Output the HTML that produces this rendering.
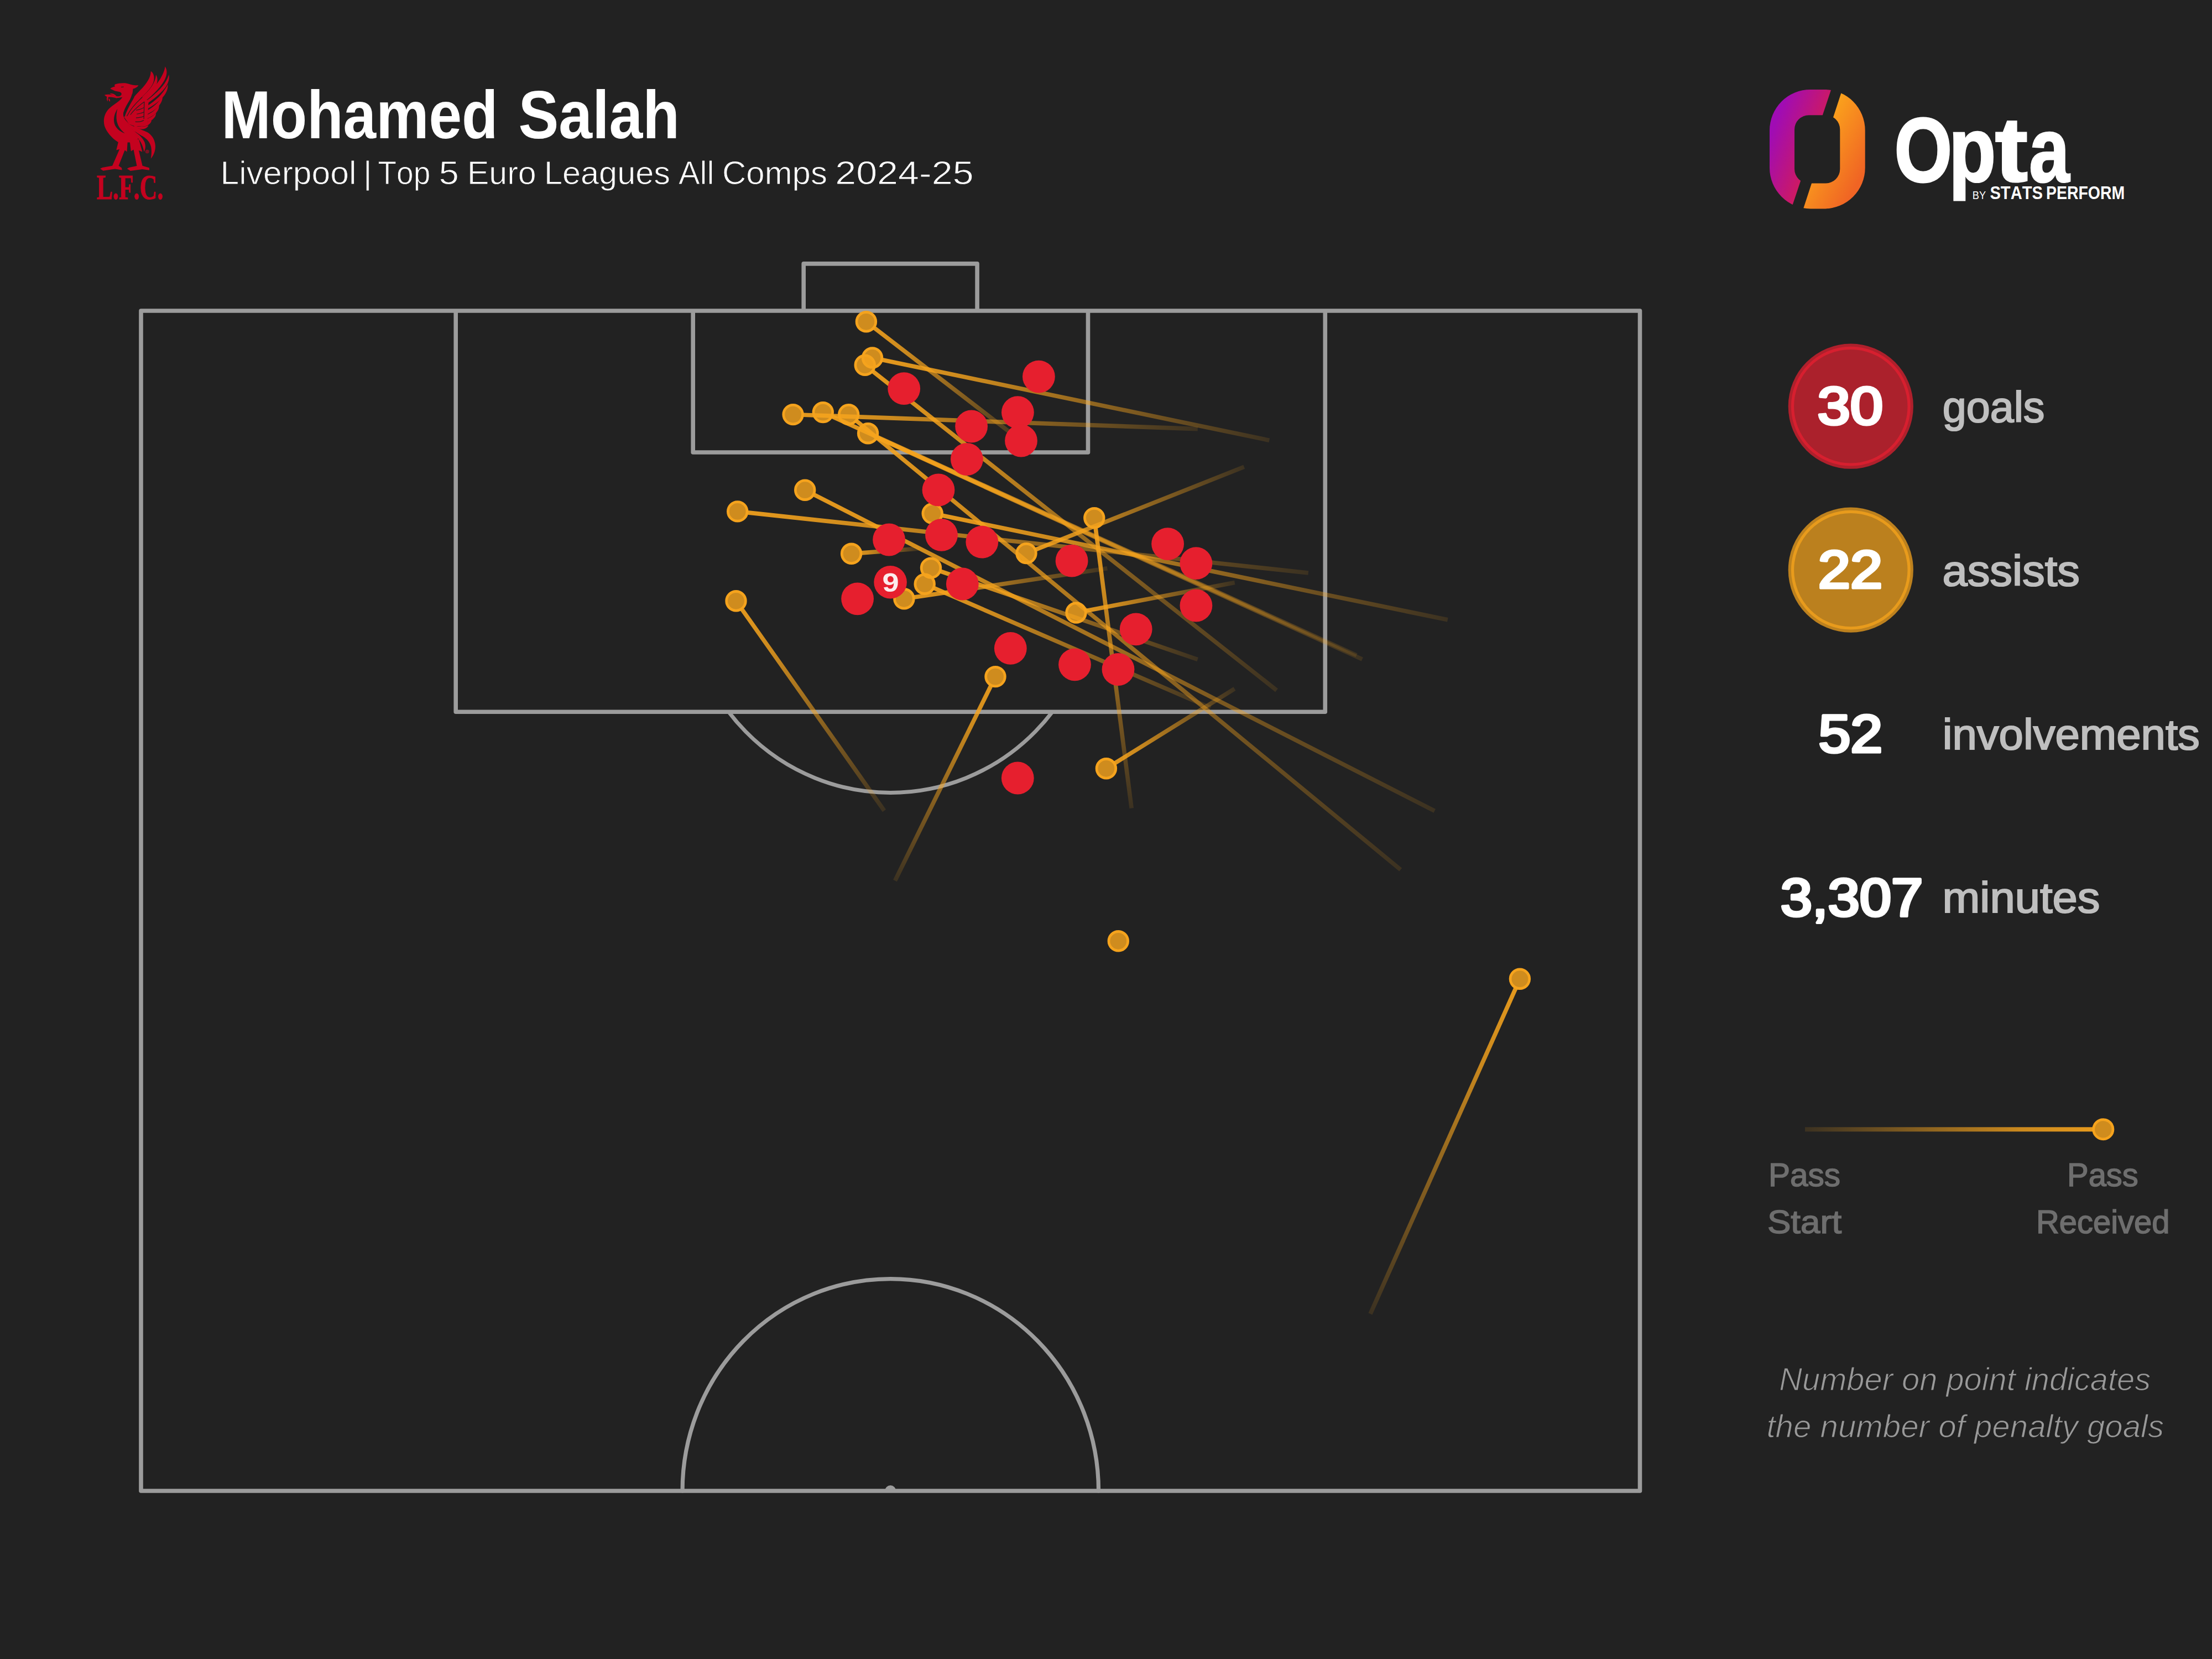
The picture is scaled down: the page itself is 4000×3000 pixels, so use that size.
<!DOCTYPE html>
<html lang="en"><head><meta charset="utf-8"><title>Mohamed Salah | Opta</title>
<style>html,body{margin:0;padding:0;background:#222222;}body{width:4000px;height:3000px;overflow:hidden;}svg{display:block;}text{font-family:"Liberation Sans",sans-serif;font-kerning:none;}</style></head><body>
<svg width="4000" height="3000" viewBox="0 0 4000 3000">
<defs>
<linearGradient id="g0" gradientUnits="userSpaceOnUse" x1="1850.0" y1="800.0" x2="1566.4" y2="581.8"><stop offset="0" stop-color="#f5a31d" stop-opacity="0.12"/><stop offset="0.75" stop-color="#f5a31d" stop-opacity="0.80"/><stop offset="1" stop-color="#f5a31d" stop-opacity="0.93"/></linearGradient>
<linearGradient id="g1" gradientUnits="userSpaceOnUse" x1="2295.3" y1="796.2" x2="1577.5" y2="647.0"><stop offset="0" stop-color="#f5a31d" stop-opacity="0.12"/><stop offset="0.75" stop-color="#f5a31d" stop-opacity="0.80"/><stop offset="1" stop-color="#f5a31d" stop-opacity="0.93"/></linearGradient>
<linearGradient id="g2" gradientUnits="userSpaceOnUse" x1="2308.5" y1="1248.2" x2="1564.2" y2="660.3"><stop offset="0" stop-color="#f5a31d" stop-opacity="0.12"/><stop offset="0.75" stop-color="#f5a31d" stop-opacity="0.80"/><stop offset="1" stop-color="#f5a31d" stop-opacity="0.93"/></linearGradient>
<linearGradient id="g3" gradientUnits="userSpaceOnUse" x1="2165.8" y1="775.6" x2="1434.1" y2="749.6"><stop offset="0" stop-color="#f5a31d" stop-opacity="0.12"/><stop offset="0.75" stop-color="#f5a31d" stop-opacity="0.80"/><stop offset="1" stop-color="#f5a31d" stop-opacity="0.93"/></linearGradient>
<linearGradient id="g4" gradientUnits="userSpaceOnUse" x1="2453.1" y1="1184.9" x2="1488.3" y2="745.6"><stop offset="0" stop-color="#f5a31d" stop-opacity="0.12"/><stop offset="0.75" stop-color="#f5a31d" stop-opacity="0.80"/><stop offset="1" stop-color="#f5a31d" stop-opacity="0.93"/></linearGradient>
<linearGradient id="g5" gradientUnits="userSpaceOnUse" x1="2532.7" y1="1572.6" x2="1534.7" y2="749.6"><stop offset="0" stop-color="#f5a31d" stop-opacity="0.12"/><stop offset="0.75" stop-color="#f5a31d" stop-opacity="0.80"/><stop offset="1" stop-color="#f5a31d" stop-opacity="0.93"/></linearGradient>
<linearGradient id="g6" gradientUnits="userSpaceOnUse" x1="2463.3" y1="1192.1" x2="1569.6" y2="783.7"><stop offset="0" stop-color="#f5a31d" stop-opacity="0.12"/><stop offset="0.75" stop-color="#f5a31d" stop-opacity="0.80"/><stop offset="1" stop-color="#f5a31d" stop-opacity="0.93"/></linearGradient>
<linearGradient id="g7" gradientUnits="userSpaceOnUse" x1="2594.2" y1="1466.3" x2="1455.7" y2="886.2"><stop offset="0" stop-color="#f5a31d" stop-opacity="0.12"/><stop offset="0.75" stop-color="#f5a31d" stop-opacity="0.80"/><stop offset="1" stop-color="#f5a31d" stop-opacity="0.93"/></linearGradient>
<linearGradient id="g8" gradientUnits="userSpaceOnUse" x1="2365.8" y1="1036.0" x2="1333.7" y2="924.9"><stop offset="0" stop-color="#f5a31d" stop-opacity="0.12"/><stop offset="0.75" stop-color="#f5a31d" stop-opacity="0.80"/><stop offset="1" stop-color="#f5a31d" stop-opacity="0.93"/></linearGradient>
<linearGradient id="g9" gradientUnits="userSpaceOnUse" x1="2617.8" y1="1120.8" x2="1686.2" y2="928.6"><stop offset="0" stop-color="#f5a31d" stop-opacity="0.12"/><stop offset="0.75" stop-color="#f5a31d" stop-opacity="0.80"/><stop offset="1" stop-color="#f5a31d" stop-opacity="0.93"/></linearGradient>
<linearGradient id="g10" gradientUnits="userSpaceOnUse" x1="1662.0" y1="992.0" x2="1539.6" y2="1001.3"><stop offset="0" stop-color="#f5a31d" stop-opacity="0.12"/><stop offset="0.75" stop-color="#f5a31d" stop-opacity="0.80"/><stop offset="1" stop-color="#f5a31d" stop-opacity="0.93"/></linearGradient>
<linearGradient id="g11" gradientUnits="userSpaceOnUse" x1="2249.7" y1="844.3" x2="1856.0" y2="1000.6"><stop offset="0" stop-color="#f5a31d" stop-opacity="0.12"/><stop offset="0.75" stop-color="#f5a31d" stop-opacity="0.80"/><stop offset="1" stop-color="#f5a31d" stop-opacity="0.93"/></linearGradient>
<linearGradient id="g12" gradientUnits="userSpaceOnUse" x1="2165.7" y1="1192.5" x2="1683.5" y2="1027.1"><stop offset="0" stop-color="#f5a31d" stop-opacity="0.12"/><stop offset="0.75" stop-color="#f5a31d" stop-opacity="0.80"/><stop offset="1" stop-color="#f5a31d" stop-opacity="0.93"/></linearGradient>
<linearGradient id="g13" gradientUnits="userSpaceOnUse" x1="2189.0" y1="1280.0" x2="1672.2" y2="1056.2"><stop offset="0" stop-color="#f5a31d" stop-opacity="0.12"/><stop offset="0.75" stop-color="#f5a31d" stop-opacity="0.80"/><stop offset="1" stop-color="#f5a31d" stop-opacity="0.93"/></linearGradient>
<linearGradient id="g14" gradientUnits="userSpaceOnUse" x1="2046.2" y1="1461.5" x2="1978.8" y2="936.6"><stop offset="0" stop-color="#f5a31d" stop-opacity="0.12"/><stop offset="0.75" stop-color="#f5a31d" stop-opacity="0.80"/><stop offset="1" stop-color="#f5a31d" stop-opacity="0.93"/></linearGradient>
<linearGradient id="g15" gradientUnits="userSpaceOnUse" x1="2232.7" y1="1053.4" x2="1946.0" y2="1108.0"><stop offset="0" stop-color="#f5a31d" stop-opacity="0.12"/><stop offset="0.75" stop-color="#f5a31d" stop-opacity="0.80"/><stop offset="1" stop-color="#f5a31d" stop-opacity="0.93"/></linearGradient>
<linearGradient id="g16" gradientUnits="userSpaceOnUse" x1="2002.4" y1="1027.7" x2="1634.9" y2="1082.8"><stop offset="0" stop-color="#f5a31d" stop-opacity="0.12"/><stop offset="0.75" stop-color="#f5a31d" stop-opacity="0.80"/><stop offset="1" stop-color="#f5a31d" stop-opacity="0.93"/></linearGradient>
<linearGradient id="g17" gradientUnits="userSpaceOnUse" x1="1599.0" y1="1466.0" x2="1331.0" y2="1086.8"><stop offset="0" stop-color="#f5a31d" stop-opacity="0.12"/><stop offset="0.75" stop-color="#f5a31d" stop-opacity="0.80"/><stop offset="1" stop-color="#f5a31d" stop-opacity="0.93"/></linearGradient>
<linearGradient id="g18" gradientUnits="userSpaceOnUse" x1="1618.5" y1="1592.5" x2="1800.0" y2="1223.6"><stop offset="0" stop-color="#f5a31d" stop-opacity="0.12"/><stop offset="0.75" stop-color="#f5a31d" stop-opacity="0.80"/><stop offset="1" stop-color="#f5a31d" stop-opacity="0.93"/></linearGradient>
<linearGradient id="g19" gradientUnits="userSpaceOnUse" x1="2232.5" y1="1245.6" x2="2000.4" y2="1389.8"><stop offset="0" stop-color="#f5a31d" stop-opacity="0.12"/><stop offset="0.75" stop-color="#f5a31d" stop-opacity="0.80"/><stop offset="1" stop-color="#f5a31d" stop-opacity="0.93"/></linearGradient>
<linearGradient id="g21" gradientUnits="userSpaceOnUse" x1="2478.0" y1="2375.9" x2="2748.4" y2="1770.2"><stop offset="0" stop-color="#f5a31d" stop-opacity="0.12"/><stop offset="0.75" stop-color="#f5a31d" stop-opacity="0.80"/><stop offset="1" stop-color="#f5a31d" stop-opacity="0.93"/></linearGradient>
<linearGradient id="lg" gradientUnits="userSpaceOnUse" x1="3264" y1="0" x2="3784" y2="0"><stop offset="0" stop-color="#f5a31d" stop-opacity="0.12"/><stop offset="0.75" stop-color="#f5a31d" stop-opacity="0.80"/><stop offset="1" stop-color="#f5a31d" stop-opacity="0.93"/></linearGradient>
<linearGradient id="ol" gradientUnits="userSpaceOnUse" x1="3200" y1="250" x2="3312" y2="292"><stop offset="0" stop-color="#a00cb4"/><stop offset="1" stop-color="#e3203c"/></linearGradient>
<linearGradient id="or" gradientUnits="userSpaceOnUse" x1="3272" y1="245" x2="3376" y2="300"><stop offset="0" stop-color="#fcaa1b"/><stop offset="1" stop-color="#f06424"/></linearGradient>
<clipPath id="cl"><polygon points="3150,100 3332,100 3231.7,400 3150,400"/></clipPath>
<clipPath id="cr"><polygon points="3351.7,100 3420,100 3420,400 3253.6,400"/></clipPath>
<clipPath id="dclip"><rect x="1100" y="1287.2" width="1000" height="300"/></clipPath>
</defs>
<rect width="4000" height="3000" fill="#222222"/>
<g fill="none" stroke="#9c9c9c" stroke-width="7.6" stroke-linejoin="round" stroke-linecap="round">
<rect x="255" y="562" width="2710.5" height="2134"/>
<path d="M824.2 562V1287.2H2396.3V562" stroke-linecap="butt"/>
<path d="M1253.2 562V818H1967.5V562" stroke-linecap="butt"/>
<path d="M1453.2 562V476.9H1767.1V562" stroke-linecap="butt"/>
<ellipse cx="1610.3" cy="1056" rx="370.4" ry="377.4" stroke-width="7" clip-path="url(#dclip)"/>
<path d="M1234.05 2696A376.25 383.4 0 0 1 1986.55 2696" stroke-width="7.2"/>
</g>
<path d="M1600.2 2696A10 10 0 0 1 1620.2 2696Z" fill="#9c9c9c"/>
<g fill="none" stroke-width="7.6" stroke-linecap="butt">
<line x1="1850.0" y1="800.0" x2="1581.1" y2="593.1" stroke="url(#g0)"/>
<line x1="2295.3" y1="796.2" x2="1595.6" y2="650.8" stroke="url(#g1)"/>
<line x1="2308.5" y1="1248.2" x2="1578.7" y2="671.8" stroke="url(#g2)"/>
<line x1="2165.8" y1="775.6" x2="1452.6" y2="750.3" stroke="url(#g3)"/>
<line x1="2453.1" y1="1184.9" x2="1505.1" y2="753.3" stroke="url(#g4)"/>
<line x1="2532.7" y1="1572.6" x2="1549.0" y2="761.4" stroke="url(#g5)"/>
<line x1="2463.3" y1="1192.1" x2="1586.4" y2="791.4" stroke="url(#g6)"/>
<line x1="2594.2" y1="1466.3" x2="1472.2" y2="894.6" stroke="url(#g7)"/>
<line x1="2365.8" y1="1036.0" x2="1352.1" y2="926.9" stroke="url(#g8)"/>
<line x1="2617.8" y1="1120.8" x2="1704.3" y2="932.3" stroke="url(#g9)"/>
<line x1="1662.0" y1="992.0" x2="1558.0" y2="999.9" stroke="url(#g10)"/>
<line x1="2249.7" y1="844.3" x2="1873.2" y2="993.8" stroke="url(#g11)"/>
<line x1="2165.7" y1="1192.5" x2="1701.0" y2="1033.1" stroke="url(#g12)"/>
<line x1="2189.0" y1="1280.0" x2="1689.2" y2="1063.6" stroke="url(#g13)"/>
<line x1="2046.2" y1="1461.5" x2="1981.2" y2="954.9" stroke="url(#g14)"/>
<line x1="2232.7" y1="1053.4" x2="1964.2" y2="1104.5" stroke="url(#g15)"/>
<line x1="2002.4" y1="1027.7" x2="1653.2" y2="1080.1" stroke="url(#g16)"/>
<line x1="1599.0" y1="1466.0" x2="1341.7" y2="1101.9" stroke="url(#g17)"/>
<line x1="1618.5" y1="1592.5" x2="1791.8" y2="1240.2" stroke="url(#g18)"/>
<line x1="2232.5" y1="1245.6" x2="2016.1" y2="1380.0" stroke="url(#g19)"/>
<line x1="2478.0" y1="2375.9" x2="2740.9" y2="1787.1" stroke="url(#g21)"/>
</g>
<g fill="#f5a31d" fill-opacity="0.82" stroke="#f5a31d" stroke-width="4.8">
<circle cx="1566.4" cy="581.8" r="17.3"/>
<circle cx="1577.5" cy="647.0" r="17.3"/>
<circle cx="1564.2" cy="660.3" r="17.3"/>
<circle cx="1434.1" cy="749.6" r="17.3"/>
<circle cx="1488.3" cy="745.6" r="17.3"/>
<circle cx="1534.7" cy="749.6" r="17.3"/>
<circle cx="1569.6" cy="783.7" r="17.3"/>
<circle cx="1455.7" cy="886.2" r="17.3"/>
<circle cx="1333.7" cy="924.9" r="17.3"/>
<circle cx="1686.2" cy="928.6" r="17.3"/>
<circle cx="1539.6" cy="1001.3" r="17.3"/>
<circle cx="1856.0" cy="1000.6" r="17.3"/>
<circle cx="1683.5" cy="1027.1" r="17.3"/>
<circle cx="1672.2" cy="1056.2" r="17.3"/>
<circle cx="1978.8" cy="936.6" r="17.3"/>
<circle cx="1946.0" cy="1108.0" r="17.3"/>
<circle cx="1634.9" cy="1082.8" r="17.3"/>
<circle cx="1331.0" cy="1086.8" r="17.3"/>
<circle cx="1800.0" cy="1223.6" r="17.3"/>
<circle cx="2000.4" cy="1389.8" r="17.3"/>
<circle cx="2022.3" cy="1701.8" r="17.3"/>
<circle cx="2748.4" cy="1770.2" r="17.3"/>
</g>
<g fill="#e61f2e">
<circle cx="1634.7" cy="702.7" r="29.4"/>
<circle cx="1878.4" cy="681.1" r="29.4"/>
<circle cx="1840.4" cy="745.7" r="29.4"/>
<circle cx="1756.6" cy="771.0" r="29.4"/>
<circle cx="1846.5" cy="797.0" r="29.4"/>
<circle cx="1748.4" cy="830.5" r="29.4"/>
<circle cx="1697.0" cy="886.0" r="29.4"/>
<circle cx="1607.6" cy="976.0" r="29.4"/>
<circle cx="1702.5" cy="967.4" r="29.4"/>
<circle cx="1775.8" cy="980.1" r="29.4"/>
<circle cx="1938.1" cy="1014.1" r="29.4"/>
<circle cx="1740.3" cy="1056.0" r="29.4"/>
<circle cx="1550.6" cy="1082.8" r="29.4"/>
<circle cx="1827.3" cy="1172.4" r="29.4"/>
<circle cx="2111.6" cy="983.6" r="29.4"/>
<circle cx="2162.9" cy="1018.7" r="29.4"/>
<circle cx="2162.9" cy="1095.0" r="29.4"/>
<circle cx="2054.2" cy="1137.8" r="29.4"/>
<circle cx="1943.5" cy="1201.8" r="29.4"/>
<circle cx="2022.0" cy="1210.5" r="29.4"/>
<circle cx="1840.3" cy="1407.0" r="29.4"/>
<circle cx="1610.1" cy="1052.8" r="29.8"/>
</g>
<text x="1595.5" y="1069.8" font-size="49" textLength="30.2" lengthAdjust="spacingAndGlyphs" font-weight="700" fill="#fcebed">9</text>
<g transform="translate(170 110) scale(0.12658)" fill="#c4021f"><path d="M300 335 C360 318 440 312 490 328 C540 345 590 352 636 350 C622 376 590 392 556 400 C556 440 545 500 520 545 C480 610 440 670 420 740 C412 790 430 830 470 870 C520 920 580 990 625 1075 C640 1110 620 1135 600 1150 L520 1165 L350 1165 C260 1110 180 1020 150 930 C125 840 150 740 230 670 C290 618 370 580 405 520 L336 532 L258 508 L266 496 L330 506 C362 512 388 500 393 478 C396 458 380 444 350 440 L300 430 L232 398 C250 378 280 372 300 368 C290 355 292 345 300 335Z"/><path d="M150 488 C200 470 260 478 335 520 L325 535 C280 520 240 512 205 520 C195 545 200 565 195 580 C180 560 178 535 185 515 C170 505 158 498 150 488Z"/><path d="M225 470 C250 460 290 470 318 500 L300 510 C280 495 250 485 225 470Z"/><path d="M210 535 C230 545 235 565 225 585 C212 570 205 552 210 535Z"/><path d="M430 800 C440 700 520 560 640 440 C740 340 810 250 812 148 C850 170 870 230 850 300 C820 400 700 500 600 600 C540 670 500 740 470 820Z"/><path d="M500 740 C560 640 690 520 790 410 C850 340 880 270 885 200 C915 240 910 310 880 370 C820 480 700 570 600 660 C560 700 530 740 510 770Z"/><path d="M560 650 C700 540 860 400 950 250 C990 180 1010 130 1015 80 C1050 130 1045 200 1010 270 C930 420 780 540 640 650 C600 680 580 690 560 690Z"/><path d="M600 670 C760 570 920 450 1010 320 C1045 265 1062 225 1068 195 C1085 250 1060 320 1020 380 C930 500 780 600 640 690Z"/><path d="M610 720 C760 660 900 560 990 440 C1025 390 1045 360 1052 335 C1062 390 1035 450 1000 500 C920 600 790 680 650 740Z"/><path d="M620 770 C740 730 860 660 940 560 C960 535 972 520 978 500 C985 550 960 600 930 640 C860 720 760 770 650 800Z"/><path d="M615 815 C720 800 830 750 900 670 C915 652 922 645 928 630 C935 680 910 720 880 750 C820 810 730 840 640 850Z"/><path d="M600 860 C690 860 790 830 860 770 C872 760 880 752 886 742 C888 785 865 815 835 840 C780 880 700 895 620 890Z"/><path d="M580 895 C660 905 750 890 822 848 C818 885 790 910 760 925 C710 945 650 940 600 925Z"/><path d="M570 925 C630 945 720 945 778 922 C765 955 730 970 700 975 C660 980 610 965 575 945Z"/><path d="M428 800 C445 700 520 600 600 545 L780 560 L760 900 L600 940 L500 905Z"/><path d="M480 890 C560 940 680 980 760 1020 C830 1060 870 1130 876 1210 C880 1290 850 1350 812 1398 C820 1340 826 1290 815 1230 C800 1160 750 1110 690 1075 C620 1035 550 990 500 930Z"/><path d="M560 1000 C630 1040 700 1100 725 1170 C740 1220 735 1260 715 1300 C705 1250 690 1200 660 1150 C630 1105 590 1060 560 1000Z"/><path d="M350 1150 L480 1150 L470 1300 L440 1275 L352 1500 L395 1528 L400 1560 L300 1545 L130 1570 L88 1540 L120 1525 L262 1500 L365 1262 L318 1275Z"/><path d="M510 1140 L640 1120 L690 1300 L640 1280 L692 1500 L790 1528 L790 1562 L690 1548 L520 1572 L472 1540 L500 1525 L612 1502 L565 1268 L528 1292Z"/><circle cx="760" cy="1295" r="28" fill-opacity="0.55"/><path d="M335 685 C285 760 270 850 300 920 C330 980 390 1020 440 1035 C380 990 340 930 325 860 C315 800 320 740 335 685Z" fill="#222222"/><path d="M545 470 C520 560 450 680 422 792 L438 800 C470 700 530 600 575 520Z" fill="#222222"/><path d="M470 790 C520 690 600 600 690 520" fill="none" stroke="#222222" stroke-width="9"/><path d="M520 770 C570 700 640 640 720 585" fill="none" stroke="#222222" stroke-width="9"/><path d="M718 585 L712 830" fill="none" stroke="#222222" stroke-width="9"/><path d="M600 705 C640 700 680 685 715 668" fill="none" stroke="#222222" stroke-width="9"/><path d="M610 760 C650 755 690 742 715 730" fill="none" stroke="#222222" stroke-width="9"/><path d="M600 815 C640 815 680 805 712 792" fill="none" stroke="#222222" stroke-width="9"/><path d="M590 870 C630 875 680 868 712 850" fill="none" stroke="#222222" stroke-width="9"/><path d="M385 372 L425 368 L422 378 L388 380Z" fill="#222222"/></g><text x="174.9" y="359.6" font-size="64" textLength="120.5" lengthAdjust="spacingAndGlyphs" font-weight="700" fill="#c4021f" stroke="#c4021f" stroke-width="1.2" style="font-family:'Liberation Serif',serif">L.F.C.</text>
<path d="M3274 161.9H3298.7A74 74 0 0 1 3372.7 235.9V303.4A74 74 0 0 1 3298.7 377.4H3274A74 74 0 0 1 3200 303.4V235.9A74 74 0 0 1 3274 161.9ZM3271 208.2H3301.3A26 26 0 0 1 3327.3 234.2V305.5A26 26 0 0 1 3301.3 331.5H3271A26 26 0 0 1 3245 305.5V234.2A26 26 0 0 1 3271 208.2Z" fill="url(#ol)" fill-rule="evenodd" clip-path="url(#cl)"/>
<path d="M3274 161.9H3298.7A74 74 0 0 1 3372.7 235.9V303.4A74 74 0 0 1 3298.7 377.4H3274A74 74 0 0 1 3200 303.4V235.9A74 74 0 0 1 3274 161.9ZM3271 208.2H3301.3A26 26 0 0 1 3327.3 234.2V305.5A26 26 0 0 1 3301.3 331.5H3271A26 26 0 0 1 3245 305.5V234.2A26 26 0 0 1 3271 208.2Z" fill="url(#or)" fill-rule="evenodd" clip-path="url(#cr)"/>
<text y="327.5" font-size="166" font-weight="700" fill="#fff" stroke="#fff" stroke-width="3.2"><tspan x="3425.4" textLength="104.7" lengthAdjust="spacingAndGlyphs">O</tspan><tspan x="3524.1" textLength="85.3" lengthAdjust="spacingAndGlyphs">p</tspan><tspan x="3607.7" textLength="59.1" lengthAdjust="spacingAndGlyphs">t</tspan><tspan x="3669.2" textLength="73.0" lengthAdjust="spacingAndGlyphs">a</tspan></text>
<text x="3566.8" y="359.9" font-size="19.5" textLength="24.2" lengthAdjust="spacingAndGlyphs" fill="#fff">BY</text>
<text y="360.3" font-size="32.5" font-weight="700" fill="#fff"><tspan x="3598.4" textLength="95.6" lengthAdjust="spacingAndGlyphs">STATS</tspan> <tspan x="3700.0" textLength="142.2" lengthAdjust="spacingAndGlyphs">PERFORM</tspan></text>
<text y="250.0" font-size="122" font-weight="700" fill="#fff"><tspan x="400.5" textLength="499.9" lengthAdjust="spacingAndGlyphs">Mohamed</tspan> <tspan x="937.5" textLength="291.5" lengthAdjust="spacingAndGlyphs">Salah</tspan></text>
<text y="333.4" font-size="60" fill="#fff" stroke="#222222" stroke-width="0.9"><tspan x="398.6" textLength="245.8" lengthAdjust="spacingAndGlyphs">Liverpool</tspan> <tspan x="656.8" textLength="16.0" lengthAdjust="spacingAndGlyphs">|</tspan> <tspan x="683.5" textLength="94.7" lengthAdjust="spacingAndGlyphs">Top</tspan> <tspan x="793.7" textLength="36.0" lengthAdjust="spacingAndGlyphs">5</tspan> <tspan x="844.9" textLength="124.8" lengthAdjust="spacingAndGlyphs">Euro</tspan> <tspan x="984.0" textLength="227.9" lengthAdjust="spacingAndGlyphs">Leagues</tspan> <tspan x="1226.9" textLength="64.5" lengthAdjust="spacingAndGlyphs">All</tspan> <tspan x="1306.0" textLength="189.9" lengthAdjust="spacingAndGlyphs">Comps</tspan> <tspan x="1510.2" textLength="250.4" lengthAdjust="spacingAndGlyphs">2024-25</tspan></text>
<circle cx="3346.8" cy="734.7" r="113.1" fill="#af202c"/>
<circle cx="3346.8" cy="734.7" r="105.3" fill="#ab212c" stroke="#d71f2f" stroke-width="5.2"/>
<circle cx="3346.8" cy="1030.6" r="113.1" fill="#bd811e"/>
<circle cx="3346.8" cy="1030.6" r="105.3" fill="#bb801e" stroke="#e89b1c" stroke-width="5.2"/>
<text x="3286.5" y="767.4" font-size="95.5" textLength="118.7" lengthAdjust="spacingAndGlyphs" fill="#fff" stroke="#fff" stroke-width="5.2" stroke-linejoin="round">30</text>
<text x="3287.8" y="1063.4" font-size="95.5" textLength="116.3" lengthAdjust="spacingAndGlyphs" fill="#fff" stroke="#fff" stroke-width="5.2" stroke-linejoin="round">22</text>
<text x="3288.4" y="1360.4" font-size="95.5" textLength="115.9" lengthAdjust="spacingAndGlyphs" fill="#fff" stroke="#fff" stroke-width="5.2" stroke-linejoin="round">52</text>
<text x="3219.7" y="1656.4" font-size="95.5" textLength="257.6" lengthAdjust="spacingAndGlyphs" fill="#fff" stroke="#fff" stroke-width="5.2" stroke-linejoin="round">3,307</text>
<text x="3512.8" y="762.6" font-size="78" textLength="184.7" lengthAdjust="spacingAndGlyphs" fill="#bfbfbf" stroke="#bfbfbf" stroke-width="2.2">goals</text>
<text x="3512.5" y="1058.5" font-size="78" textLength="248.4" lengthAdjust="spacingAndGlyphs" fill="#bfbfbf" stroke="#bfbfbf" stroke-width="2.2">assists</text>
<text x="3512.7" y="1354.5" font-size="78" textLength="465.2" lengthAdjust="spacingAndGlyphs" fill="#bfbfbf" stroke="#bfbfbf" stroke-width="2.2">involvements</text>
<text x="3512.6" y="1650.4" font-size="78" textLength="284.9" lengthAdjust="spacingAndGlyphs" fill="#bfbfbf" stroke="#bfbfbf" stroke-width="2.2">minutes</text>
<line x1="3264" y1="2042.2" x2="3786" y2="2042.2" stroke="url(#lg)" stroke-width="8"/>
<circle cx="3803.3" cy="2042.2" r="17.6" fill="#f5a31d" fill-opacity="0.82" stroke="#f5a31d" stroke-width="4.8"/>
<text x="3198.0" y="2145.0" font-size="60" textLength="130.1" lengthAdjust="spacingAndGlyphs" fill="#6e6e6e" stroke="#6e6e6e" stroke-width="1.6">Pass</text>
<text x="3195.9" y="2229.8" font-size="60" textLength="134.4" lengthAdjust="spacingAndGlyphs" fill="#6e6e6e" stroke="#6e6e6e" stroke-width="1.6">Start</text>
<text x="3738.0" y="2145.0" font-size="60" textLength="128.8" lengthAdjust="spacingAndGlyphs" fill="#6e6e6e" stroke="#6e6e6e" stroke-width="1.6">Pass</text>
<text x="3682.0" y="2229.8" font-size="60" textLength="241.5" lengthAdjust="spacingAndGlyphs" fill="#6e6e6e" stroke="#6e6e6e" stroke-width="1.6">Received</text>
<text x="3217.2" y="2514.0" font-size="57" textLength="672.0" lengthAdjust="spacingAndGlyphs" font-style="italic" fill="#999" stroke="#222222" stroke-width="1.2">Number on point indicates</text>
<text x="3194.4" y="2598.7" font-size="57" textLength="718.8" lengthAdjust="spacingAndGlyphs" font-style="italic" fill="#999" stroke="#222222" stroke-width="1.2">the number of penalty goals</text>
</svg></body></html>
